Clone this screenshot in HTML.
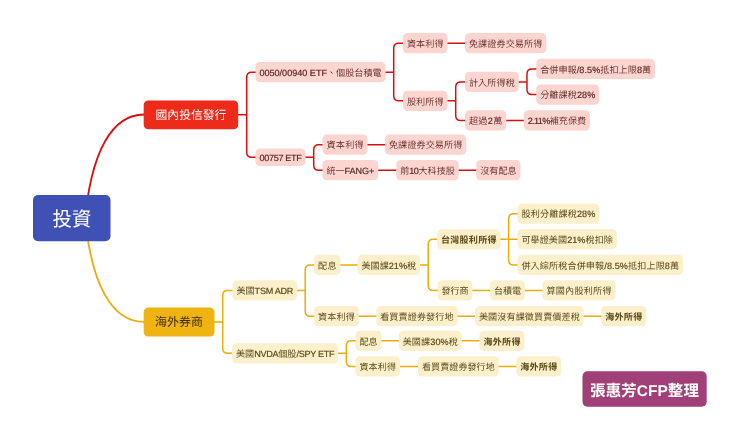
<!DOCTYPE html>
<html lang="zh-Hant"><head><meta charset="utf-8"><title>投資</title>
<style>
html,body{margin:0;padding:0;background:#fff}
body{width:740px;height:440px;overflow:hidden}
svg{display:block}
text{font-family:"Liberation Sans","Noto Sans CJK TC",sans-serif;text-rendering:geometricPrecision}
.t{font-size:9.1px;font-weight:400}
.pt{font-weight:350}
.l{stroke-width:.2px;stroke:currentColor;paint-order:stroke;stroke-linejoin:round}.pt .l{stroke:#5E2622}.yt .l{stroke:#5C4A16}
.b{font-weight:700}
.pl{fill:none;stroke:#D80F0F;stroke-width:1.5;stroke-linecap:round;stroke-linejoin:round}
.yl{fill:none;stroke:#ECAC08;stroke-width:1.5;stroke-linecap:round;stroke-linejoin:round}
.pb{fill:#FCD5D1}.yb{fill:#FCF0CC}
.pt{fill:#5E2622}.yt{fill:#5C4A16}
</style></head><body>
<svg width="740" height="440" viewBox="0 0 740 440">
<rect width="740" height="440" fill="#fff"/>
<defs><filter id="aa" x="0" y="0" width="740" height="440" filterUnits="userSpaceOnUse" color-interpolation-filters="sRGB"><feOffset dx="0" dy="0"/></filter></defs>
<g filter="url(#aa)">
<path class="pl" style="stroke-width:1.8" d="M144 114.5C113.37 114.5 90.31 149.03 84.36 227.15"/>
<path class="yl" style="stroke-width:1.8" d="M144 321.9C113.37 321.9 90.31 287.37 84.36 209.25"/>
<path class="pl" d="M237.7 114.8H246.7M246.7 114.8V77.2Q246.7 72.2 251.7 72.2H256M246.7 114.8V152.3Q246.7 157.3 251.7 157.3H256M385 72.2H393.7M393.7 72.2V48.2Q393.7 43.2 398.7 43.2H403.5M393.7 72.2V95.8Q393.7 100.8 398.7 100.8H403.5M447 43.2H465.5M447 100.8H455.7M455.7 100.8V86.9Q455.7 81.9 460.7 81.9H465.5M455.7 100.8V115.45Q455.7 120.45 460.7 120.45H465.5M518.25 81.9H526.95M526.95 81.9V73.95Q526.95 68.95 531.95 68.95H536.75M526.95 81.9V89.6Q526.95 94.6 531.95 94.6H536.75M505.75 120.45H524.25M305 157.3H313.7M313.7 157.3V149.7Q313.7 144.7 318.7 144.7H323M313.7 157.3V165.2Q313.7 170.2 318.7 170.2H323M367 144.7H385.5M377.75 170.2H396.75M458.25 170.2H476.75"/>
<path class="yl" d="M214 322.05H222.7M222.7 322.05V295.45Q222.7 290.45 227.7 290.45H233M222.7 322.05V348.3Q222.7 353.3 227.7 353.3H232.5M296.5 290.45H305.2M305.2 290.45V269.95Q305.2 264.95 310.2 264.95H314.6M305.2 290.45V311.2Q305.2 316.2 310.2 316.2H314.6M339.9 264.95H358M419.5 264.95H428.2M428.2 264.95V244.3Q428.2 239.3 433.2 239.3H437.7M428.2 264.95V285.45Q428.2 290.45 433.2 290.45H438M499.9 239.3H508.6M508.6 239.3V218.7Q508.6 213.7 513.6 213.7H518M508.6 239.2H518M508.6 239.3V259.95Q508.6 264.95 513.6 264.95H518M472 290.45H490.5M524.5 290.45H543M358.2 316.2H376.75M457 316.2H475.5M583.25 316.2H601.75M337.6 353.3H346.3M346.3 353.3V345.8Q346.3 340.8 351.3 340.8H356M346.3 353.3V361.4Q346.3 366.4 351.3 366.4H356M381 340.8H399.25M461.25 340.8H480M399.5 366.4H418.5M498.25 366.4H516.75"/>
<rect x="33" y="195" width="77.5" height="46.2" rx="5" fill="#3F51B5"/>
<text x="71.9" y="225.9" font-size="20" fill="#fff" text-anchor="middle" textLength="38.8" lengthAdjust="spacingAndGlyphs">投資</text>
<rect x="143.7" y="100.4" width="94.5" height="28.8" rx="4.5" fill="#EE2A1A"/>
<text x="190.95" y="119.1" font-size="11.8" fill="#FFFFFF" text-anchor="middle">國內投信發行</text>
<rect x="143.7" y="307.6" width="70.8" height="28.9" rx="4.5" fill="#F0B412"/>
<text x="179.1" y="326.35" font-size="12" fill="#3A2C06" text-anchor="middle">海外券商</text>
<rect class="pb" x="255.5" y="62.05" width="130" height="20.3" rx="4.5"/>
<text class="t pt" x="259.4" y="75.95" textLength="122.2" lengthAdjust="spacing"><tspan class="l">0050/00940 ETF</tspan>、個股台積電</text>
<rect class="pb" x="403" y="33.05" width="44.5" height="20.3" rx="4.5"/>
<text class="t pt" x="406.9" y="46.95" textLength="36.7" lengthAdjust="spacing">資本利得</text>
<rect class="pb" x="465" y="33.05" width="81.25" height="20.3" rx="4.5"/>
<text class="t pt" x="468.9" y="46.95" textLength="73.45" lengthAdjust="spacing">免課證券交易所得</text>
<rect class="pb" x="403" y="90.65" width="44.5" height="20.3" rx="4.5"/>
<text class="t pt" x="406.9" y="104.55" textLength="36.7" lengthAdjust="spacing">股利所得</text>
<rect class="pb" x="465" y="71.75" width="53.75" height="20.3" rx="4.5"/>
<text class="t pt" x="468.9" y="85.65" textLength="45.95" lengthAdjust="spacing">計入所得稅</text>
<rect class="pb" x="536.25" y="58.8" width="118.75" height="20.3" rx="4.5"/>
<text class="t pt" x="540.15" y="72.7" textLength="110.95" lengthAdjust="spacing">合併申報<tspan class="l">/8.5%</tspan>抵扣上限<tspan class="l">8</tspan>萬</text>
<rect class="pb" x="536.25" y="84.45" width="63" height="20.3" rx="4.5"/>
<text class="t pt" x="540.15" y="98.35" textLength="55.2" lengthAdjust="spacing">分離課稅<tspan class="l">28%</tspan></text>
<rect class="pb" x="465" y="110.3" width="41.25" height="20.3" rx="4.5"/>
<text class="t pt" x="468.9" y="124.2" textLength="33.45" lengthAdjust="spacing">超過<tspan class="l">2</tspan>萬</text>
<rect class="pb" x="523.75" y="110.3" width="66.25" height="20.3" rx="4.5"/>
<text class="t pt" x="527.65" y="124.2" textLength="58.45" lengthAdjust="spacing"><tspan class="l" style="letter-spacing:-0.61px">2.11%</tspan>補充保費</text>
<rect class="pb" x="255.5" y="148.55" width="50" height="17.5" rx="4.5"/>
<text class="t pt" x="259.4" y="161.05" textLength="42.2" lengthAdjust="spacing"><tspan class="l" style="letter-spacing:-0.31px">00757 ETF</tspan></text>
<rect class="pb" x="322.5" y="134.55" width="45" height="20.3" rx="4.5"/>
<text class="t pt" x="326.4" y="148.45" textLength="37.2" lengthAdjust="spacing">資本利得</text>
<rect class="pb" x="385" y="134.55" width="81.25" height="20.3" rx="4.5"/>
<text class="t pt" x="388.9" y="148.45" textLength="73.45" lengthAdjust="spacing">免課證券交易所得</text>
<rect class="pb" x="322.5" y="160.05" width="55.75" height="20.3" rx="4.5"/>
<text class="t pt" x="326.4" y="173.95" textLength="47.95" lengthAdjust="spacing">統一<tspan class="l">FANG+</tspan></text>
<rect class="pb" x="396.25" y="160.05" width="62.5" height="20.3" rx="4.5"/>
<text class="t pt" x="400.15" y="173.95" textLength="54.7" lengthAdjust="spacing">前<tspan class="l" style="letter-spacing:-0.46px">10</tspan>大科技股</text>
<rect class="pb" x="476.25" y="160.05" width="44.25" height="20.3" rx="4.5"/>
<text class="t pt" x="480.15" y="173.95" textLength="36.45" lengthAdjust="spacing">沒有配息</text>
<rect class="yb" x="232.5" y="280.3" width="64.5" height="20.3" rx="4.5"/>
<text class="t yt" x="236.4" y="294.2" textLength="56.7" lengthAdjust="spacing">美國<tspan class="l" style="letter-spacing:-0.28px">TSM ADR</tspan></text>
<rect class="yb" x="314.1" y="254.8" width="26.3" height="20.3" rx="4.5"/>
<text class="t yt" x="318" y="268.7" textLength="18.5" lengthAdjust="spacing">配息</text>
<rect class="yb" x="357.5" y="254.8" width="62.5" height="20.3" rx="4.5"/>
<text class="t yt" x="361.4" y="268.7" textLength="54.7" lengthAdjust="spacing">美國課<tspan class="l">21%</tspan>稅</text>
<rect class="yb" x="437.2" y="229.15" width="63.2" height="20.3" rx="4.5"/>
<text class="t yt b" x="441.1" y="243.05" textLength="55.4" lengthAdjust="spacing">台灣股利所得</text>
<rect class="yb" x="517.5" y="203.55" width="81.8" height="20.3" rx="4.5"/>
<text class="t yt" x="521.4" y="217.45" textLength="74" lengthAdjust="spacing">股利分離課稅<tspan class="l">28%</tspan></text>
<rect class="yb" x="517.5" y="229.05" width="99.3" height="20.3" rx="4.5"/>
<text class="t yt" x="521.4" y="242.95" textLength="91.5" lengthAdjust="spacing">可舉證美國<tspan class="l">21%</tspan>稅扣除</text>
<rect class="yb" x="517.5" y="254.8" width="165.5" height="20.3" rx="4.5"/>
<text class="t yt" x="521.4" y="268.7" textLength="157.7" lengthAdjust="spacing">併入綜所稅合併申報<tspan class="l">/8.5%</tspan>抵扣上限<tspan class="l">8</tspan>萬</text>
<rect class="yb" x="437.5" y="280.3" width="35" height="20.3" rx="4.5"/>
<text class="t yt" x="441.4" y="294.2" textLength="27.2" lengthAdjust="spacing">發行商</text>
<rect class="yb" x="490" y="280.3" width="35" height="20.3" rx="4.5"/>
<text class="t yt" x="493.9" y="294.2" textLength="27.2" lengthAdjust="spacing">台積電</text>
<rect class="yb" x="542.5" y="280.3" width="72.9" height="20.3" rx="4.5"/>
<text class="t yt" x="546.4" y="294.2" textLength="65.1" lengthAdjust="spacing">算國內股利所得</text>
<rect class="yb" x="314.1" y="306.05" width="44.6" height="20.3" rx="4.5"/>
<text class="t yt" x="318" y="319.95" textLength="36.8" lengthAdjust="spacing">資本利得</text>
<rect class="yb" x="376.25" y="306.05" width="81.25" height="20.3" rx="4.5"/>
<text class="t yt" x="380.15" y="319.95" textLength="73.45" lengthAdjust="spacing">看買賣證券發行地</text>
<rect class="yb" x="475" y="306.05" width="108.75" height="20.3" rx="4.5"/>
<text class="t yt" x="478.9" y="319.95" textLength="100.95" lengthAdjust="spacing">美國沒有課徵買賣價差稅</text>
<rect class="yb" x="601.25" y="306.05" width="44.95" height="20.3" rx="4.5"/>
<text class="t yt b" x="605.15" y="319.95" textLength="37.15" lengthAdjust="spacing">海外所得</text>
<rect class="yb" x="232" y="343.15" width="106.1" height="20.3" rx="4.5"/>
<text class="t yt" x="235.9" y="357.05" textLength="98.3" lengthAdjust="spacing">美國<tspan class="l" style="letter-spacing:-0.35px">NVDA</tspan>個股<tspan class="l" style="letter-spacing:-0.35px">/SPY ETF</tspan></text>
<rect class="yb" x="355.5" y="330.65" width="26" height="20.3" rx="4.5"/>
<text class="t yt" x="359.4" y="344.55" textLength="18.2" lengthAdjust="spacing">配息</text>
<rect class="yb" x="398.75" y="330.65" width="63" height="20.3" rx="4.5"/>
<text class="t yt" x="402.65" y="344.55" textLength="55.2" lengthAdjust="spacing">美國課<tspan class="l">30%</tspan>稅</text>
<rect class="yb" x="479.5" y="330.65" width="44.9" height="20.3" rx="4.5"/>
<text class="t yt b" x="483.4" y="344.55" textLength="37.1" lengthAdjust="spacing">海外所得</text>
<rect class="yb" x="355.5" y="356.25" width="44.5" height="20.3" rx="4.5"/>
<text class="t yt" x="359.4" y="370.15" textLength="36.7" lengthAdjust="spacing">資本利得</text>
<rect class="yb" x="418" y="356.25" width="80.75" height="20.3" rx="4.5"/>
<text class="t yt" x="421.9" y="370.15" textLength="72.95" lengthAdjust="spacing">看買賣證券發行地</text>
<rect class="yb" x="516.25" y="356.25" width="44.95" height="20.3" rx="4.5"/>
<text class="t yt b" x="520.15" y="370.15" textLength="37.15" lengthAdjust="spacing">海外所得</text>
<rect x="582.5" y="371.3" width="124.2" height="35.4" rx="5" fill="#A03F78"/>
<text x="644.5" y="395.6" font-size="15.5" font-weight="700" fill="#fff" text-anchor="middle" textLength="108.8" lengthAdjust="spacing">張惠芳CFP整理</text>
</g>
</svg></body></html>
